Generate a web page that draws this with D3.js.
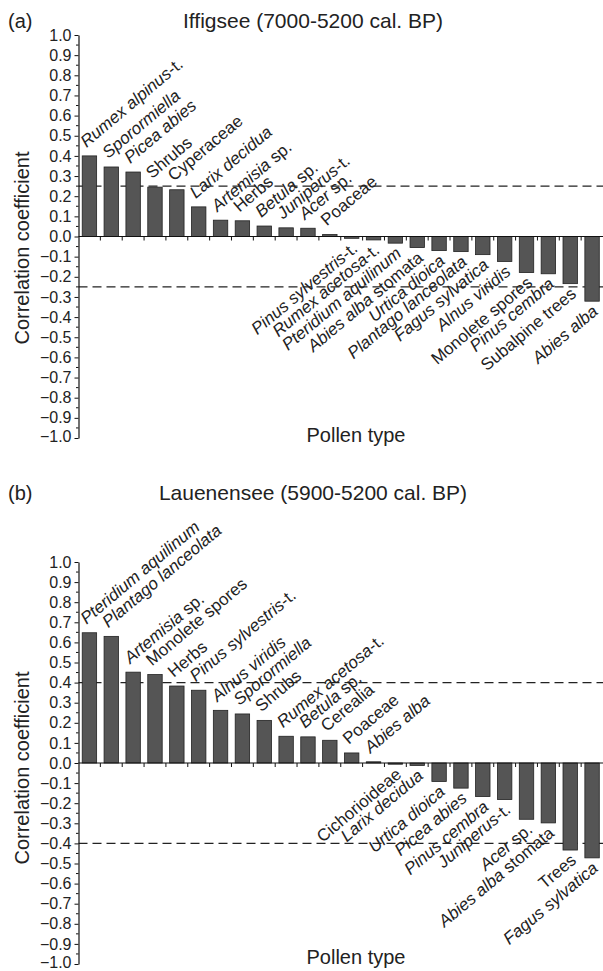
<!DOCTYPE html>
<html>
<head>
<meta charset="utf-8">
<script src="https://cdn.jsdelivr.net/npm/d3@7"></script>
<style>
  body { margin: 0; background: #fff; }
  svg { display: block; font-family: "Liberation Sans", Arial, sans-serif; }
</style>
</head>
<body>
<div id="wrapper"></div>
<script>
// labels: text between *...* is set in italics
const iffigseeTaxa = [
    "*Rumex alpinus*-t.", "*Sporormiella*", "*Picea abies*", "Shrubs", "Cyperaceae",
    "*Larix decidua*", "*Artemisia* sp.", "Herbs", "*Betula* sp.", "*Juniperus*-t.",
    "*Acer* sp.", "Poaceae", "*Pinus sylvestris*-t.", "*Rumex acetosa*-t.",
    "*Pteridium aquilinum*", "*Abies alba* stomata", "*Urtica dioica*",
    "*Plantago lanceolata*", "*Fagus sylvatica*", "*Alnus viridis*", "Monolete spores",
    "*Pinus cembra*", "Subalpine trees", "*Abies alba*"
];
const iffigseeValues = [
    0.40, 0.345, 0.32, 0.245, 0.232, 0.147, 0.081, 0.078, 0.052, 0.043,
    0.041, 0.010, -0.009, -0.017, -0.033, -0.055, -0.070, -0.075, -0.090,
    -0.124, -0.179, -0.185, -0.234, -0.321
];

const lauenenseeTaxa = [
    "*Pteridium aquilinum*", "*Plantago lanceolata*", "*Artemisia* sp.", "Monolete spores",
    "Herbs", "*Pinus sylvestris*-t.", "*Alnus viridis*", "*Sporormiella*", "Shrubs",
    "*Rumex acetosa*-t.", "*Betula* sp.", "Cerealia", "Poaceae", "*Abies alba*",
    "Cichorioideae", "*Larix decidua*", "*Urtica dioica*", "*Picea abies*",
    "*Pinus cembra*", "*Juniperus*-t.", "*Acer* sp.", "*Abies alba* stomata", "Trees",
    "*Fagus sylvatica*"
];
const lauenenseeValues = [
    0.648, 0.630, 0.452, 0.440, 0.383, 0.362, 0.262, 0.244, 0.212, 0.133,
    0.130, 0.113, 0.050, 0.006, -0.006, -0.012, -0.092, -0.125, -0.167,
    -0.182, -0.280, -0.298, -0.433, -0.472
];

const yMajorTicks = [-1, -0.9, -0.8, -0.7, -0.6, -0.5, -0.4, -0.3, -0.2, -0.1, 0,
    0.1, 0.2, 0.3, 0.4, 0.5, 0.6, 0.7, 0.8, 0.9, 1];

const panels = [
    { letter: "(a)", title: "Iffigsee (7000-5200 cal. BP)", taxa: iffigseeTaxa,
      values: iffigseeValues, threshold: 0.25, top: 35, bottom: 438,
      titleY: 28, xTitleY: 442, yTitleY: 248 },
    { letter: "(b)", title: "Lauenensee (5900-5200 cal. BP)", taxa: lauenenseeTaxa,
      values: lauenenseeValues, threshold: 0.40, top: 562, bottom: 964,
      titleY: 500, xTitleY: 964, yTitleY: 768 },
];

const width = 603;
const height = 971;
const left = 78.5;
const right = 603;

const svg = d3.select("#wrapper")
    .append("svg")
        .attr("width", width)
        .attr("height", height);

function addLabel(textSel, label) {
    label.split("*").forEach((part, i) => {
        if (!part) return;
        textSel.append("tspan")
            .attr("font-style", i % 2 === 1 ? "italic" : "normal")
            .text(part);
    });
}

function drawPanel(p) {
    const g = svg.append("g");

    const xScale = d3.scaleBand()
        .domain(p.taxa)
        .range([left, right])
        .paddingInner(0.34)
        .paddingOuter(0.17);

    const yScale = d3.scaleLinear()
        .domain([-1, 1])
        .range([p.bottom, p.top]);

    const y0 = yScale(0);
    const step = xScale.step();

    // threshold lines
    [p.threshold, -p.threshold].forEach(t => {
        g.append("line")
            .attr("x1", left)
            .attr("x2", right)
            .attr("y1", yScale(t))
            .attr("y2", yScale(t))
            .attr("stroke", "#222")
            .attr("stroke-width", 1.4)
            .attr("stroke-dasharray", "9,5");
    });

    // bars
    g.selectAll("rect.bar")
        .data(p.values)
        .join("rect")
            .attr("class", "bar")
            .attr("x", (d, i) => xScale(p.taxa[i]))
            .attr("width", xScale.bandwidth())
            .attr("y", d => yScale(Math.max(0, d)))
            .attr("height", d => Math.abs(yScale(d) - y0))
            .attr("fill", "#555")
            .attr("stroke", "#222")
            .attr("stroke-width", 0.8);

    // y axis
    const yAxis = g.append("g")
        .attr("transform", `translate(${left},0)`)
        .call(d3.axisLeft(yScale)
            .tickValues(yMajorTicks)
            .tickFormat(d3.format(".1f"))
            .tickSize(4)
            .tickSizeOuter(0)
            .tickPadding(3));
    yAxis.select(".domain").attr("stroke", "#111").attr("stroke-width", 1.2);
    yAxis.selectAll(".tick line").attr("stroke", "#111");
    yAxis.selectAll(".tick text")
        .attr("font-size", 16)
        .attr("font-family", "Liberation Sans, Arial, sans-serif")
        .attr("fill", "#222")
        // keep the lowest label inside the page
        .attr("dy", d => d === -1 ? "0.2em" : "0.32em");

    // minor y ticks
    g.selectAll("line.minor")
        .data(yMajorTicks.slice(1).map(d => d - 0.05))
        .join("line")
            .attr("class", "minor")
            .attr("x1", left - 2.5)
            .attr("x2", left)
            .attr("y1", d => yScale(d))
            .attr("y2", d => yScale(d))
            .attr("stroke", "#111");

    // zero line with ticks between bars
    g.append("line")
        .attr("x1", left)
        .attr("x2", right)
        .attr("y1", y0)
        .attr("y2", y0)
        .attr("stroke", "#111")
        .attr("stroke-width", 1.2);
    g.selectAll("line.xtick")
        .data(p.taxa.slice(1))
        .join("line")
            .attr("class", "xtick")
            .attr("x1", d => xScale(d) - step * 0.17)
            .attr("x2", d => xScale(d) - step * 0.17)
            .attr("y1", y0)
            .attr("y2", y0 + 4)
            .attr("stroke", "#111");

    // category labels
    p.taxa.forEach((taxon, i) => {
        const v = p.values[i];
        const cx = xScale(taxon) + xScale.bandwidth() / 2;
        const t = g.append("text")
            .attr("font-size", 17)
            .attr("fill", "#222");
        if (v >= 0) {
            t.attr("text-anchor", "start")
                .attr("transform", `translate(${cx - 3},${yScale(v) - 8}) rotate(-40)`);
        } else {
            t.attr("text-anchor", "end")
                .attr("transform", `translate(${cx + 7},${yScale(v) + 12}) rotate(-40)`);
        }
        addLabel(t, taxon);
    });

    // titles
    g.append("text")
        .attr("x", 8)
        .attr("y", p.titleY)
        .attr("font-size", 20)
        .attr("fill", "#222")
        .text(p.letter);

    g.append("text")
        .attr("x", 313)
        .attr("y", p.titleY)
        .attr("text-anchor", "middle")
        .attr("font-size", 21)
        .attr("fill", "#222")
        .text(p.title);

    g.append("text")
        .attr("x", 356)
        .attr("y", p.xTitleY)
        .attr("text-anchor", "middle")
        .attr("font-size", 20)
        .attr("fill", "#222")
        .text("Pollen type");

    g.append("text")
        .attr("transform", `translate(29,${p.yTitleY}) rotate(-90)`)
        .attr("text-anchor", "middle")
        .attr("font-size", 20)
        .attr("fill", "#222")
        .text("Correlation coefficient");
}

panels.forEach(drawPanel);
</script>
</body>
</html>
